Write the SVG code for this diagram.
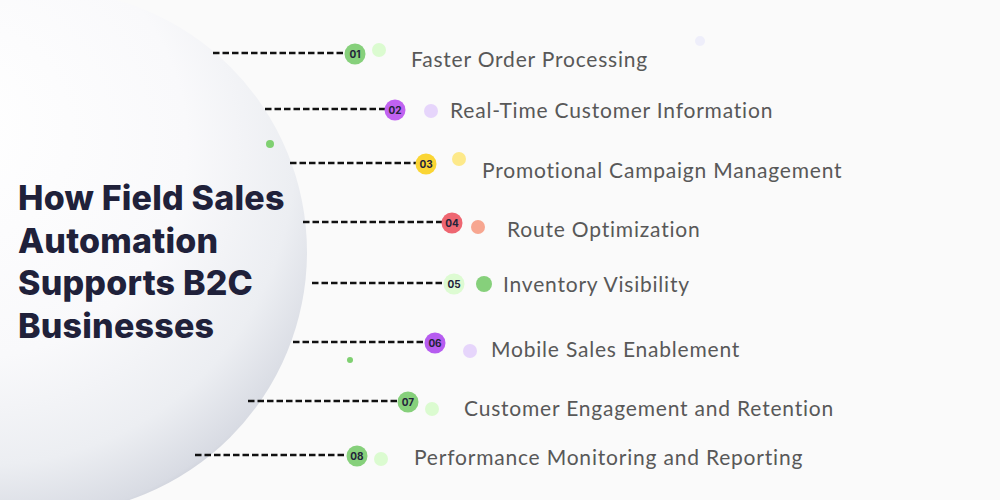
<svg xmlns="http://www.w3.org/2000/svg" width="1000" height="500" viewBox="0 0 1000 500">
<defs>
<radialGradient id="sph" cx="0.4" cy="0.33" r="0.74" fx="0.32" fy="0.25">
<stop offset="0" stop-color="#ffffff"/>
<stop offset="0.55" stop-color="#f9f9fb"/>
<stop offset="0.8" stop-color="#eceef2"/>
<stop offset="0.94" stop-color="#d8dbe3"/>
<stop offset="1" stop-color="#b8bcc8"/>
</radialGradient>
<style>
.conn{stroke:#111;stroke-width:2.5;stroke-dasharray:6.5 3;fill:none}
.lbl{font-family:Lato,"Open Sans",sans-serif;font-size:21px;letter-spacing:0.8px;fill:#585858}
.num{font-family:Inter,"Noto Sans",sans-serif;font-weight:700;font-size:10px;fill:#23233a;text-anchor:middle}
.title{font-family:Inter,"Noto Sans",sans-serif;font-weight:800;font-size:34px;fill:#20213a;letter-spacing:0.2px}
</style>
</defs>
<rect width="1000" height="500" fill="#fafafa"/>
<g id="sphere">
<circle cx="45" cy="252" r="262" fill="url(#sph)"/>
<text class="title" x="18" y="210">How Field Sales</text>
<text class="title" x="18" y="253">Automation</text>
<text class="title" x="18" y="295">Supports B2C</text>
<text class="title" x="18" y="338">Businesses</text>
</g>
<g id="decor">
<circle cx="270" cy="144" r="4" fill="#7fd071"/>
<circle cx="350" cy="360" r="3" fill="#7fd071"/>
<circle cx="700" cy="41" r="5" fill="#eeeefa"/>
</g>
<g id="connectors">
<line class="conn" x1="213" y1="53" x2="346" y2="53"/>
<line class="conn" x1="265" y1="109" x2="386" y2="109"/>
<line class="conn" x1="290" y1="163" x2="417" y2="163"/>
<line class="conn" x1="303" y1="222" x2="443" y2="222"/>
<line class="conn" x1="312" y1="283" x2="445" y2="283"/>
<line class="conn" x1="293" y1="342" x2="426" y2="342"/>
<line class="conn" x1="248" y1="401" x2="399" y2="401"/>
<line class="conn" x1="195" y1="455" x2="348" y2="455"/>
</g>
<g id="item1">
<circle cx="355" cy="54" r="10.5" fill="#86d07b"/><text class="num" x="355" y="57.5">01</text>
<circle cx="379" cy="50" r="7" fill="#dbfbd0"/>
<text class="lbl" x="411" y="67">Faster Order Processing</text>
</g>
<g id="item2">
<circle cx="395" cy="110" r="10.5" fill="#c062f0"/><text class="num" x="395" y="113.5">02</text>
<circle cx="431" cy="111" r="7" fill="#e6d5fb"/>
<text class="lbl" x="450" y="118">Real-Time Customer Information</text>
</g>
<g id="item3">
<circle cx="426" cy="164" r="10.5" fill="#fad534"/><text class="num" x="426" y="167.5">03</text>
<circle cx="459" cy="159" r="7" fill="#fde98a"/>
<text class="lbl" x="482" y="178">Promotional Campaign Management</text>
</g>
<g id="item4">
<circle cx="452" cy="223" r="10.5" fill="#ee6671"/><text class="num" x="452" y="226.5">04</text>
<circle cx="478" cy="227" r="7" fill="#f7a690"/>
<text class="lbl" x="507" y="237">Route Optimization</text>
</g>
<g id="item5">
<circle cx="454" cy="284" r="10.5" fill="#ddfbd2"/><text class="num" x="454" y="287.5">05</text>
<circle cx="484" cy="284" r="8" fill="#86d07b"/>
<text class="lbl" x="503" y="292">Inventory Visibility</text>
</g>
<g id="item6">
<circle cx="435" cy="343" r="10.5" fill="#b65cf0"/><text class="num" x="435" y="346.5">06</text>
<circle cx="470" cy="351" r="7" fill="#e6d5fb"/>
<text class="lbl" x="491" y="357">Mobile Sales Enablement</text>
</g>
<g id="item7">
<circle cx="408" cy="402" r="10.5" fill="#86d07b"/><text class="num" x="408" y="405.5">07</text>
<circle cx="432" cy="409" r="7" fill="#dbfbd0"/>
<text class="lbl" x="464" y="416">Customer Engagement and Retention</text>
</g>
<g id="item8">
<circle cx="357" cy="456" r="10.5" fill="#86d07b"/><text class="num" x="357" y="459.5">08</text>
<circle cx="381" cy="459" r="7" fill="#dbfbd0"/>
<text class="lbl" x="414" y="465">Performance Monitoring and Reporting</text>
</g>
</svg>
